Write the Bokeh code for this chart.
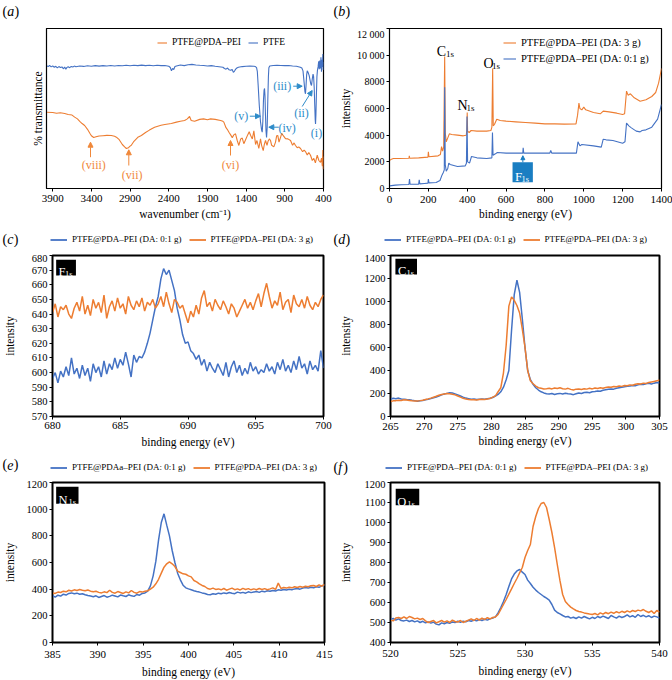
import numpy as np
from bokeh.plotting import figure
from bokeh.models import (Range1d, FixedTicker, Label, Arrow, NormalHead, Legend,
                          LegendItem, BoxAnnotation)
from bokeh.layouts import column, row
from bokeh.embed import file_html
from bokeh.resources import INLINE

ORANGE = "#ED7D31"
BLUE = "#4472C4"
ANN_OR = "#F0883A"
ANN_BL = "#2D8BC9"
BOXBL = "#1A7EC2"
FONT = "Liberation Serif"

# ---------------- (a) FTIR ----------------
A_WN_PDA = [3980, 3900, 3850, 3800, 3745, 3700, 3650, 3616, 3580, 3550, 3520, 3487, 3450, 3420,
            3400, 3370, 3340, 3300, 3250, 3200, 3142, 3100, 3077, 3040, 3000, 2970, 2948, 2920,
            2900, 2884, 2850, 2800, 2754, 2700, 2650, 2583, 2500, 2450, 2367, 2300, 2250, 2195,
            2160, 2131, 2110, 2066, 2000, 1950, 1900, 1859, 1800, 1730, 1700, 1688, 1660, 1644,
            1620, 1600, 1579, 1560, 1537, 1515, 1494, 1470, 1450, 1430, 1407, 1380, 1360, 1343,
            1320, 1300, 1278, 1260, 1236, 1214, 1200, 1179, 1165, 1149, 1130, 1117, 1100, 1085,
            1070, 1042, 1020, 1005, 990, 975, 955, 940, 920, 891, 860, 826, 800, 780, 762, 740,
            720, 697, 670, 650, 633, 610, 590, 568, 545, 525, 505, 481, 460, 439, 425, 415, 408,
            403, 400]
A_T_PDA = [47.7, 47.5, 47.0, 47.3, 46.9, 46.3, 45.9, 44.6, 43.5, 42.0, 40.6, 39.4, 37.0, 34.5,
           33.0, 31.9, 32.3, 32.8, 33.0, 33.2, 33.1, 32.6, 32.1, 30.5, 27.5, 26.0, 25.0, 25.5,
           26.5, 27.0, 29.5, 32.0, 33.1, 35.0, 36.5, 38.3, 39.5, 40.0, 40.6, 41.5, 42.0, 42.5,
           43.5, 45.0, 42.5, 42.0, 43.2, 43.5, 43.0, 43.5, 43.2, 42.5, 42.0, 41.5, 38.0, 37.0,
           35.0, 33.5, 31.8, 33.5, 34.2, 30.0, 26.9, 31.0, 31.5, 28.0, 30.5, 33.5, 35.5, 33.3,
           31.0, 36.0, 27.5, 30.0, 25.0, 31.0, 27.0, 23.7, 27.5, 30.0, 27.0, 29.5, 31.0, 30.0,
           27.0, 26.0, 29.0, 33.0, 33.1, 29.0, 32.0, 34.5, 33.0, 31.2, 31.0, 30.0, 27.0, 28.5,
           26.9, 25.5, 26.0, 25.0, 23.0, 24.0, 23.1, 21.0, 22.5, 20.8, 17.5, 18.8, 16.0, 20.8,
           17.5, 16.4, 19.0, 14.0, 24.0, 12.0, 20.0]

A_WN_PTFE = [3980, 3960, 3940, 3920, 3900, 3880, 3860, 3840, 3820, 3800, 3780, 3760, 3745, 3730,
             3715, 3700, 3680, 3660, 3640, 3620, 3600, 3550, 3500, 3450, 3400, 3350, 3300, 3250,
             3200, 3150, 3100, 3050, 3000, 2950, 2900, 2850, 2800, 2750, 2700, 2650, 2600, 2550,
             2500, 2450, 2400, 2380, 2365, 2350, 2335, 2320, 2300, 2250, 2200, 2150, 2100, 2050,
             2000, 1950, 1900, 1850, 1800, 1750, 1700, 1680, 1660, 1640, 1620, 1600, 1580, 1565,
             1550, 1535, 1520, 1500, 1450, 1400, 1350, 1300, 1280, 1265, 1255, 1245, 1230, 1215,
             1200, 1192, 1184, 1176, 1168, 1162, 1156, 1150, 1143, 1136, 1128, 1120, 1112, 1106,
             1095, 1050, 1000, 950, 900, 850, 800, 750, 700, 680, 665, 650, 640, 633, 626, 618,
             610, 603, 595, 585, 575, 565, 555, 545, 535, 528, 520, 513, 507, 503, 498, 492, 485,
             478, 470, 462, 455, 448, 440, 433, 426, 420, 414, 408, 403, 400]
A_T_PTFE = [76.8, 76.2, 76.9, 76.0, 76.6, 75.8, 76.4, 75.4, 76.2, 75.6, 76.0, 74.8, 75.9, 74.6,
            75.7, 76.1, 75.5, 76.3, 75.9, 76.5, 76.1, 76.6, 76.3, 76.7, 76.4, 76.8, 76.5, 76.8,
            76.6, 76.9, 76.6, 76.9, 76.7, 77.0, 76.7, 77.0, 76.8, 77.1, 76.8, 77.0, 76.7, 77.0,
            76.8, 76.9, 76.4, 75.6, 73.6, 75.0, 74.4, 76.2, 76.6, 77.2, 76.8, 77.3, 77.6, 77.2,
            77.0, 76.9, 76.6, 76.8, 76.4, 76.1, 75.8, 75.0, 74.6, 75.3, 74.2, 73.9, 74.4, 72.6,
            73.4, 74.6, 75.3, 75.8, 76.2, 76.4, 76.5, 76.4, 76.2, 75.5, 73.0, 65.0, 52.0, 42.0,
            36.5, 35.2, 42.0, 55.0, 61.5, 62.5, 58.0, 46.0, 36.0, 31.9, 38.0, 55.0, 70.0, 75.5,
            76.6, 76.9, 77.0, 76.9, 76.8, 76.9, 76.6, 76.4, 75.8, 75.3, 73.5, 66.0, 60.5, 59.2,
            64.0, 71.0, 73.5, 73.0, 72.0, 70.5, 68.0, 65.5, 64.4, 68.5, 71.5, 70.0, 63.0, 52.0,
            43.0, 40.4, 46.0, 58.0, 70.0, 74.0, 76.0, 79.5, 74.5, 80.0, 75.0, 82.0, 73.0, 80.5,
            76.0, 84.0, 74.0, 79.0]
A_XTICKS = [3900, 3400, 2900, 2400, 1900, 1400, 900, 400]

# ---------------- (b) XPS survey ----------------
B_X_3G = [0, 10, 20, 50, 100, 102, 104, 150, 198, 200, 203, 250, 262, 268, 273, 279, 284, 287,
          292, 300, 308, 320, 350, 380, 395, 398, 400, 402, 410, 420, 450, 500, 522, 527, 531,
          534, 540, 552, 570, 600, 650, 700, 750, 800, 850, 900, 960, 968, 975, 980, 990, 1000,
          1010, 1050, 1085, 1100, 1130, 1170, 1200, 1210, 1220, 1228, 1240, 1260, 1290, 1320,
          1350, 1370, 1385, 1400]
B_Y_3G = [2100, 2200, 2250, 2250, 2270, 2450, 2270, 2300, 2350, 2750, 2380, 2450, 2550, 3150,
          2800, 3100, 9900, 4200, 3500, 3800, 4100, 4050, 4000, 3950, 4000, 4300, 5700, 4300,
          4200, 4350, 4300, 4300, 4350, 4600, 9000, 4700, 4800, 5200, 5100, 5050, 5000, 4950,
          4900, 4850, 4850, 4830, 4850, 5500, 6400, 6000, 5900, 6100, 5900, 5700, 5600, 5800,
          5750, 5650, 5550, 5600, 7300, 7000, 7100, 6800, 6550, 6650, 6900, 7200, 7900, 9000]
B_X_01G = [0, 30, 60, 100, 103, 106, 150, 153, 156, 180, 198, 200, 203, 240, 260, 270, 277,
           282, 284, 287, 292, 300, 305, 312, 350, 390, 396, 399, 402, 412, 422, 450, 500, 527,
           530, 533, 545, 555, 600, 650, 686, 688, 691, 750, 825, 830, 835, 900, 962, 970, 980,
           990, 1050, 1090, 1100, 1115, 1150, 1200, 1212, 1220, 1232, 1245, 1270, 1290, 1300,
           1320, 1350, 1380, 1400]
B_Y_01G = [200, 250, 280, 300, 700, 320, 330, 650, 350, 380, 400, 700, 420, 450, 600, 1000,
           1200, 1400, 7600, 1800, 1300, 1500, 1900, 1800, 1650, 1700, 1900, 5400, 2000, 1900,
           2400, 2300, 2250, 2300, 4200, 2500, 2600, 2700, 2650, 2650, 2650, 3050, 2650, 2650,
           2650, 2850, 2650, 2650, 2650, 3500, 3200, 3300, 3200, 3100, 3700, 3650, 3600, 3400,
           3500, 4900, 4700, 4550, 4300, 4250, 4350, 4400, 4600, 5200, 6300]
B_XTICKS = [0, 200, 400, 600, 800, 1000, 1200, 1400]
B_YTICKS = [0, 2000, 4000, 6000, 8000, 10000, 12000]

# ---------------- (c) F1s ----------------
C_X0, C_STEP = 680.0, 0.2
C_01G = [596, 600, 593, 601, 597, 604, 598, 610, 599, 603,
         596, 605, 598, 603, 594, 606, 600, 604, 597, 608,
         599, 606, 602, 610, 603, 609, 605, 614, 606, 597,
         612, 607, 611, 610, 614, 620, 627, 636, 645, 652,
         664, 671, 667, 670, 663, 656, 644, 636, 626, 620,
         621, 615, 613, 609, 612, 605, 609, 601, 607, 603,
         600, 606, 602, 598, 607, 597, 604, 608, 600, 605,
         598, 603, 599, 607, 601, 604, 599, 602, 600, 606,
         601, 604, 599, 607, 602, 609, 601, 605, 600, 608,
         602, 611, 603, 606, 599, 608, 602, 605, 601, 615,
         603]
C_3G = [641, 647, 638, 645, 643, 646, 640, 637, 644, 648,
        642, 652, 640, 646, 639, 650, 644, 648, 641, 653,
        637, 645, 649, 642, 651, 644, 647, 640, 652, 646,
        643, 649, 645, 651, 642, 648, 646, 650, 644, 647,
        652, 645, 655, 647, 641, 650, 648, 644, 646, 640,
        634, 642, 638, 646, 640, 651, 656, 645, 648, 642,
        650, 646, 643, 649, 645, 640, 647, 644, 638, 642,
        646, 650, 644, 648, 643, 649, 654, 645, 654, 661,
        652, 644, 649, 646, 655, 643, 648, 650, 641, 653,
        647, 645, 650, 644, 652, 646, 643, 648, 645, 650,
        653]
C_XTICKS = [680, 685, 690, 695, 700]
C_YTICKS = list(range(570, 681, 10))

# ---------------- (d) C1s ----------------
D_X0, D_STEP = 265.0, 0.4
D_01G = [150, 158, 155, 160, 152, 150, 147, 145, 141, 138,
         133, 137, 140, 145, 150, 156, 163, 170, 178, 188,
         195, 201, 207, 204, 197, 188, 178, 168, 160, 155,
         150, 152, 148, 151, 153, 150, 155, 158, 165, 178,
         192, 215, 255, 320, 400, 750, 1060, 1185, 1080, 850,
         600, 400, 320, 280, 250, 230, 215, 205, 198, 195,
         200, 192, 198, 201, 196, 202, 198, 195, 190, 198,
         205, 200, 208, 210, 206, 215, 218, 222, 220, 228,
         232, 236, 240, 238, 245, 250, 255, 258, 262, 265,
         270, 268, 275, 280, 278, 285, 288, 283, 290, 295,
         292]
D_3G = [130, 136, 138, 142, 140, 145, 143, 140, 137, 135,
        135, 138, 142, 148, 153, 160, 168, 176, 185, 192,
        196, 200, 198, 194, 188, 178, 168, 158, 152, 148,
        145, 146, 144, 147, 149, 148, 152, 156, 168, 180,
        215, 250, 380, 620, 960, 1040, 1010, 965, 900, 760,
        600, 400, 310, 285, 265, 250, 245, 240, 242, 245,
        240, 248, 244, 250, 242, 238, 245, 236, 230, 238,
        240, 235, 242, 238, 245, 240, 248, 244, 250, 246,
        252, 256, 254, 260, 258, 265, 262, 270, 268, 275,
        272, 280, 285, 282, 290, 288, 295, 300, 305, 310,
        318]
D_XTICKS = [265, 270, 275, 280, 285, 290, 295, 300, 305]
D_YTICKS = [0, 200, 400, 600, 800, 1000, 1200, 1400]

# ---------------- (e) N1s ----------------
E_X0, E_STEP = 385.0, 0.3
E_01G = [352, 340, 355, 348, 362, 356, 368, 372, 365, 370,
         362, 366, 358, 352, 348, 343, 350, 338, 345, 352,
         340, 346, 355, 349, 342, 356, 350, 345, 358, 350,
         346, 360, 355, 368, 372, 385, 425, 500, 610, 770,
         900, 965, 880, 800, 690, 600, 520, 470, 430, 410,
         402, 395, 388, 382, 378, 372, 368, 360, 358, 365,
         362, 370, 366, 372, 368, 375, 370, 366, 378, 372,
         376, 370, 380, 374, 378, 382, 376, 385, 380, 388,
         384, 390, 386, 395, 392, 398, 394, 400, 396, 402,
         405, 400, 408, 412, 408, 415, 410, 418, 414, 425,
         430]
E_3G = [372, 368, 378, 375, 385, 380, 392, 386, 395, 390,
        398, 392, 388, 394, 385, 380, 384, 376, 372, 380,
        374, 392, 376, 370, 382, 375, 368, 380, 372, 390,
        376, 370, 382, 378, 385, 388, 400, 415, 440, 474,
        520, 565, 590, 605, 590, 570, 535, 525, 515, 512,
        500, 492, 465, 455, 440, 428, 420, 405, 400, 408,
        398, 402, 395, 405, 392, 400, 408, 396, 402, 394,
        406, 398, 404, 395, 402, 396, 405, 398, 404, 396,
        402, 410, 398, 445, 405, 412, 408, 415, 410, 418,
        412, 420, 415, 422, 418, 425, 428, 420, 432, 422,
        436]
E_XTICKS = [385, 390, 395, 400, 405, 410, 415]
E_YTICKS = [0, 200, 400, 600, 800, 1000, 1200]

# ---------------- (f) O1s ----------------
F_X0, F_STEP = 520.0, 0.2
F_01G = [515, 520, 512, 518, 510, 508, 512, 505, 510, 503,
         508, 500, 506, 498, 503, 497, 502, 492, 488, 498,
         494, 500, 496, 503, 500, 506, 501, 507, 503, 510,
         506, 512, 508, 515, 510, 516, 512, 518, 522, 528,
         548, 575, 605, 640, 680, 718, 742, 758, 765, 752,
         740, 712, 695, 676, 662, 650, 640, 630, 622, 612,
         590, 562, 550, 543, 535, 528, 530, 522, 526, 520,
         528, 522, 530, 524, 518, 526, 520, 530, 524, 532,
         526, 520, 535, 528, 522, 532, 525, 530, 538, 528,
         534, 526, 540, 530, 536, 528, 534, 525, 532, 528,
         522]
F_3G = [512, 508, 522, 525, 520, 528, 520, 530, 525, 518,
        522, 515, 520, 508, 500, 505, 510, 498, 504, 510,
        502, 508, 500, 512, 505, 502, 510, 500, 506, 512,
        518, 510, 520, 512, 522, 515, 524, 518, 525, 528,
        540, 565, 590, 615, 642, 668, 695, 720, 748, 775,
        825, 860, 890, 980, 1030, 1070, 1095, 1100, 1075, 1015,
        950, 874, 790, 709, 640, 605, 590, 577, 568, 560,
        555, 552, 548, 545, 542, 540, 545, 538, 548, 542,
        550, 544, 552, 546, 554, 548, 556, 550, 558, 552,
        560, 555, 562, 558, 565, 556, 550, 558, 545, 560,
        552]
F_XTICKS = [520, 525, 530, 535, 540]
F_YTICKS = [400, 500, 600, 700, 800, 900, 1000, 1100, 1200]

LEG_C = ["PTFE@PDA\u2013PEI (DA: 0:1 g)", "PTFE@PDA\u2013PEI (DA: 3 g)"]
LEG_E = ["PTFE@PDAa\u2013PEI (DA: 0:1 g)", "PTFE@PDA\u2013PEI (DA: 3 g)"]

# reference frame geometry (reference px) and data ranges, for placing annotations
REF = {
    'a': (46, 323, 28, 188, 3980, 400, 0, 100),
    'b': (384, 661, 28, 189, 0, 1400, 0, 12000),
    'c': (49, 323, 254, 416, 680, 700, 570, 680),
    'd': (385, 659, 255, 417, 265, 305, 0, 1400),
    'e': (49, 324, 480, 643, 385, 415, 0, 1200),
    'f': (385, 659, 482, 644, 520, 540, 400, 1200),
}
NAN = [float("nan")]


def r2d(key, sx, sy):
    l, r, t, b, x0, x1, y0, y1 = REF[key]
    return (x0 + (sx - l) / (r - l) * (x1 - x0), y0 + (b - sy) / (b - t) * (y1 - y0))


def make_fig(key, w, h, bl, br, bt, bb, ow):
    l, r, t, b, x0, x1, y0, y1 = REF[key]
    p = figure(width=w, height=h, x_range=Range1d(x0, x1), y_range=Range1d(y0, y1),
               output_backend="svg", toolbar_location=None,
               min_border_left=bl, min_border_right=br, min_border_top=bt, min_border_bottom=bb)
    p.grid.visible = False
    p.outline_line_color = "black"
    p.outline_line_width = ow
    p.background_fill_color = "white"
    p.border_fill_color = "white"
    return p


def strip(h):
    s = figure(width=672, height=h, x_range=Range1d(0, 672), y_range=Range1d(h, 0),
               output_backend="svg", toolbar_location=None, x_axis_type=None, y_axis_type=None,
               min_border_left=0, min_border_right=0, min_border_top=0, min_border_bottom=0)
    s.outline_line_color = None
    s.background_fill_color = "white"
    s.border_fill_color = "white"
    return s


def style_axes(p, xticks, yticks, xlabel, ylabel, xs1, xs2, ys1, ys2, yfs=10.5, yover=None):
    xa, ya = p.xaxis[0], p.yaxis[0]
    xa.ticker = FixedTicker(ticks=xticks)
    ya.ticker = FixedTicker(ticks=yticks)
    for ax in (xa, ya):
        ax.major_label_text_font = FONT
        ax.axis_label_text_font = FONT
        ax.axis_label_text_font_style = "normal"
        ax.axis_label_text_font_size = "11.5px"
        ax.major_label_text_color = "black"
        ax.axis_label_text_color = "black"
        ax.major_tick_in = 0
        ax.major_tick_out = 3
        ax.minor_tick_in = 0
        ax.minor_tick_out = 0
        ax.axis_line_color = "black"
        ax.major_tick_line_color = "black"
    xa.major_label_text_font_size = "11px"
    ya.major_label_text_font_size = f"{yfs}px"
    xa.axis_label = xlabel
    ya.axis_label = ylabel
    xa.major_label_standoff = xs1
    xa.axis_label_standoff = xs2
    ya.major_label_standoff = ys1
    ya.axis_label_standoff = ys2
    if yover:
        ya.major_label_overrides = yover


def lab(p, x, y, text, size, color="black", align="left", baseline="middle", style="normal"):
    p.add_layout(Label(x=x, y=y, text=text, text_font=FONT, text_font_size=f"{size}px",
                       text_color=color, text_align=align, text_baseline=baseline,
                       text_font_style=style))


def panel_tag(s, x, y, letter, letter_w):
    # "(" upright, letter italic, ")" upright
    lab(s, x, y, "(", 14)
    lab(s, x + 4.8, y, letter, 14, style="italic")
    lab(s, x + 4.8 + letter_w, y, ")", 14)


def txt(p, key, sx, sy, text, size, color="black", align="center", baseline="middle"):
    x, y = r2d(key, sx, sy)
    lab(p, x, y, text, size, color, align, baseline)


def sub_txt(p, key, sx, sy, main, sx2, sy2, sub, size, subsize, color="black"):
    txt(p, key, sx, sy, main, size, color, "left", "alphabetic")
    txt(p, key, sx2, sy2, sub, subsize, color, "left", "alphabetic")


def arrow(p, key, s0, s1, color, size=5):
    x0, y0 = r2d(key, *s0)
    x1, y1 = r2d(key, *s1)
    p.add_layout(Arrow(end=NormalHead(size=size, fill_color=color, line_color=color, line_width=1),
                       x_start=x0, y_start=y0, x_end=x1, y_end=y1,
                       line_color=color, line_width=1))


def box(p, key, s0, s1, color):
    x0, y0 = r2d(key, *s0)
    x1, y1 = r2d(key, *s1)
    p.add_layout(BoxAnnotation(left=min(x0, x1), right=max(x0, x1), bottom=min(y0, y1),
                               top=max(y0, y1), fill_color=color, fill_alpha=1.0,
                               line_color=None))


def legend(p, items, loc, fs, gw, spacing, standoff, orient="horizontal"):
    leg = Legend(items=[LegendItem(label=l, renderers=[r]) for l, r in items],
                 location=loc, orientation=orient)
    leg.label_text_font = FONT
    leg.label_text_font_size = f"{fs}px"
    leg.label_text_color = "black"
    leg.glyph_width = gw
    leg.glyph_height = 13
    leg.label_height = 13
    leg.label_width = 10
    leg.label_standoff = standoff
    leg.spacing = spacing
    leg.padding = 0
    leg.margin = 0
    leg.border_line_color = None
    leg.background_fill_alpha = 0
    p.add_layout(leg)


def xs(x0, step, vals):
    return x0 + step * np.arange(len(vals))


def strip_legend(s, labels, loc):
    rb = s.line(NAN, NAN, line_color=BLUE, line_width=1.8)
    ro = s.line(NAN, NAN, line_color=ORANGE, line_width=1.8)
    legend(s, [(labels[0], rb), (labels[1], ro)], loc, 9, 17, 7, 5)


# ================= header strip 1: (a) (b) =================
s1 = strip(28)
panel_tag(s1, 2, 11, "a", 7.2)
panel_tag(s1, 333, 11, "b", 7.2)

# ================= (a) =================
pa = make_fig('a', 336, 202, 46, 13, 0, 42, 1.2)
style_axes(pa, A_XTICKS, [], "wavenumber (cm\u207b\u00b9)", "% transmittance", 3, 3, 0, 3)
pa.yaxis[0].major_tick_out = 0
ra_o = pa.line(A_WN_PDA, A_T_PDA, line_color=ORANGE, line_width=1.1)
ra_b = pa.line(A_WN_PTFE, A_T_PTFE, line_color=BLUE, line_width=1.1)
legend(pa, [("PTFE@PDA\u2013PEI", ra_o), ("PTFE", ra_b)], (111, 139.5), 9.5, 10, 7, 5)
for (tx, ty, t), (a0, a1) in [((93.3, 164.3, "(viii)"), ((90, 156.7), (90, 141.7))),
                              ((131.7, 174, "(vii)"), ((128.3, 165), (128.3, 149.3))),
                              ((230, 164.3, "(vi)"), ((230, 155), (230, 140)))]:
    txt(pa, 'a', tx, ty, t, 12, ANN_OR)
    arrow(pa, 'a', a0, a1, ANN_OR)
for (tx, ty, t), arr in [((240.7, 115.7, "(v)"), ((249.3, 115.7), (260, 115.7))),
                         ((286.7, 127.3, "(iv)"), ((278.3, 126.7), (268.3, 126.7))),
                         ((281.7, 85.7, "(iii)"), ((292.7, 85.7), (301.7, 85.7))),
                         ((301, 112.7, "(ii)"), ((301.7, 106), (311.7, 90))),
                         ((316, 132.7, "(i)"), None)]:
    txt(pa, 'a', tx, ty, t, 12, ANN_BL)
    if arr:
        arrow(pa, 'a', arr[0], arr[1], ANN_BL)

# ================= (b) =================
pb = make_fig('b', 336, 202, 48, 11, 0, 41, 1.2)
style_axes(pb, B_XTICKS, B_YTICKS, "binding energy (eV)", "intensity", 4, 2, 2, 2, yfs=10,
           yover={10000: "10 000", 12000: "12 000"})
rb_o = pb.line(B_X_3G, B_Y_3G, line_color=ORANGE, line_width=1.1)
rb_b = pb.line(B_X_01G, B_Y_01G, line_color=BLUE, line_width=1.1)
legend(pb, [("PTFE@PDA\u2013PEI (DA: 3 g)", rb_o), ("PTFE@PDA\u2013PEI (DA: 0:1 g)", rb_b)],
       (114, 123.5), 10.5, 13, 3, 5, orient="vertical")
sub_txt(pb, 'b', 432, 51.3, "C", 441.5, 53.8, "1s", 14, 9)
sub_txt(pb, 'b', 453.3, 105.3, "N", 462.5, 107.8, "1s", 14, 9)
sub_txt(pb, 'b', 479.7, 63, "O", 488.5, 65.5, "1s", 14, 9)
box(pb, 'b', (509.3, 162.7), (530, 182.7), BOXBL)
sub_txt(pb, 'b', 511.7, 176.7, "F", 518.3, 179, "1s", 13, 8.5, color="white")
arrow(pb, 'b', (519.8, 162.7), (519.8, 156), BOXBL, size=4)

# ================= header strip 2: (c) (d) + legends =================
s2 = strip(24)
panel_tag(s2, 2, 9, "c", 6.4)
panel_tag(s2, 333, 9, "d", 7.2)
strip_legend(s2, LEG_C, (50, 8.5))
strip_legend(s2, LEG_C, (384, 8.5))

# ================= (c) =================
pc = make_fig('c', 336, 201, 49, 13, 0, 39, 2)
style_axes(pc, C_XTICKS, C_YTICKS, "binding energy (eV)", "intensity", 2, 4, 2, 13)
pc.line(xs(C_X0, C_STEP, C_01G), C_01G, line_color=BLUE, line_width=1.5)
pc.line(xs(C_X0, C_STEP, C_3G), C_3G, line_color=ORANGE, line_width=1.5)
box(pc, 'c', (52.7, 258.3), (72.7, 274), "black")
sub_txt(pc, 'c', 55, 270.5, "F", 61.7, 272.5, "1s", 12.5, 8.5, color="white")

# ================= (d) =================
pd_ = make_fig('d', 336, 201, 49, 13, 1, 38, 2)
style_axes(pd_, D_XTICKS, D_YTICKS, "binding energy (eV)", "intensity", 3, 2, 2, 10)
pd_.line(xs(D_X0, D_STEP, D_01G), D_01G, line_color=BLUE, line_width=1.5)
pd_.line(xs(D_X0, D_STEP, D_3G), D_3G, line_color=ORANGE, line_width=1.5)
box(pd_, 'd', (390, 258.3), (412, 274), "black")
sub_txt(pd_, 'd', 392.7, 270.5, "C", 401.3, 272.5, "1s", 12.5, 8.5, color="white")

# ================= header strip 3: (e) (f) + legends =================
s3 = strip(25)
panel_tag(s3, 2, 9, "e", 6.4)
panel_tag(s3, 333, 12, "f", 5.0)
strip_legend(s3, LEG_E, (50, 6.2))
strip_legend(s3, LEG_C, (385, 6.2))

# ================= (e) =================
pe = make_fig('e', 336, 200, 49, 12, 0, 37, 2)
style_axes(pe, E_XTICKS, E_YTICKS, "binding energy (eV)", "intensity", 5, 5, 2, 8)
pe.line(xs(E_X0, E_STEP, E_01G), E_01G, line_color=BLUE, line_width=1.5)
pe.line(xs(E_X0, E_STEP, E_3G), E_3G, line_color=ORANGE, line_width=1.5)
box(pe, 'e', (52.7, 484.3), (75.3, 501.7), "black")
sub_txt(pe, 'e', 55, 498.3, "N", 65.3, 500.3, "1s", 12.5, 8.5, color="white")

# ================= (f) =================
pf = make_fig('f', 336, 200, 49, 13, 2, 36, 2)
style_axes(pf, F_XTICKS, F_YTICKS, "binding energy (eV)", "intensity", 4, 5, 2, 10)
pf.line(xs(F_X0, F_STEP, F_01G), F_01G, line_color=BLUE, line_width=1.5)
pf.line(xs(F_X0, F_STEP, F_3G), F_3G, line_color=ORANGE, line_width=1.5)
box(pf, 'f', (390.3, 488.3), (414.3, 505), "black")
sub_txt(pf, 'f', 392, 501.5, "O", 402, 503.5, "1s", 12.5, 8.5, color="white")

layout = column(s1, row(pa, pb), s2, row(pc, pd_), s3, row(pe, pf))
open("out.html", "w").write(file_html(layout, INLINE))
